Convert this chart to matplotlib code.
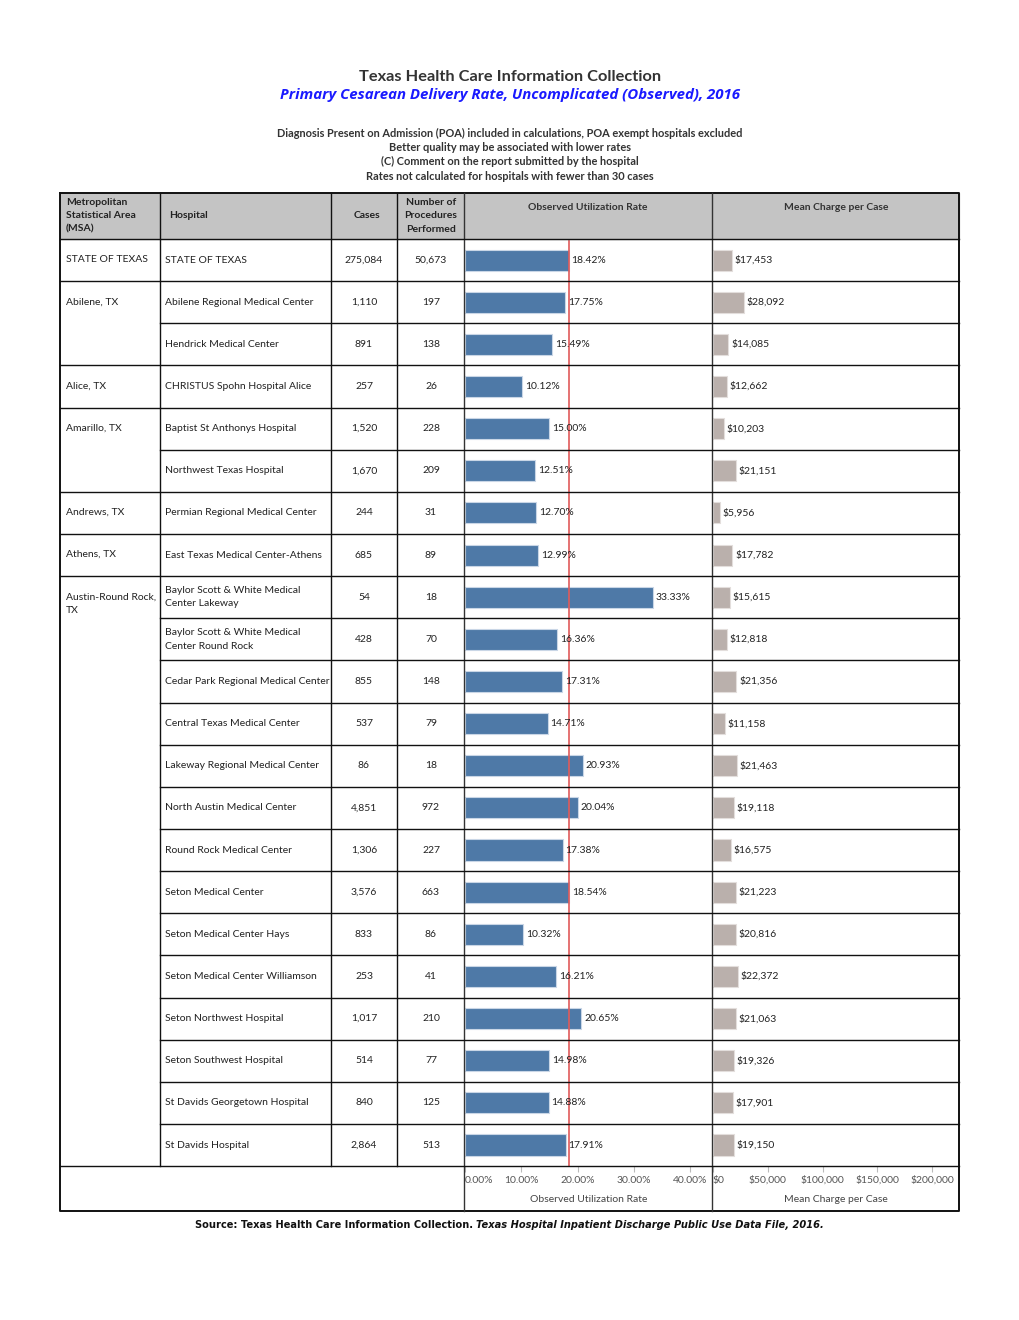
import matplotlib
matplotlib.use("Agg")
import matplotlib.pyplot as plt
from matplotlib.ticker import FuncFormatter

# ---- data ----
msa_groups = [
    ("STATE OF TEXAS", 1),
    ("Abilene, TX", 2),
    ("Alice, TX", 1),
    ("Amarillo, TX", 2),
    ("Andrews, TX", 1),
    ("Athens, TX", 1),
    ("Austin-Round Rock,\nTX", 14),
]

hospitals = [
    "STATE OF TEXAS",
    "Abilene Regional Medical Center",
    "Hendrick Medical Center",
    "CHRISTUS Spohn Hospital Alice",
    "Baptist St Anthonys Hospital",
    "Northwest Texas Hospital",
    "Permian Regional Medical Center",
    "East Texas Medical Center-Athens",
    "Baylor Scott & White Medical\nCenter Lakeway",
    "Baylor Scott & White Medical\nCenter Round Rock",
    "Cedar Park Regional Medical Center",
    "Central Texas Medical Center",
    "Lakeway Regional Medical Center",
    "North Austin Medical Center",
    "Round Rock Medical Center",
    "Seton Medical Center",
    "Seton Medical Center Hays",
    "Seton Medical Center Williamson",
    "Seton Northwest Hospital",
    "Seton Southwest Hospital",
    "St Davids Georgetown Hospital",
    "St Davids Hospital",
]

cases = [275084, 1110, 891, 257, 1520, 1670, 244, 685, 54, 428, 855, 537,
         86, 4851, 1306, 3576, 833, 253, 1017, 514, 840, 2864]
procedures = [50673, 197, 138, 26, 228, 209, 31, 89, 18, 70, 148, 79,
              18, 972, 227, 663, 86, 41, 210, 77, 125, 513]
rates = [18.42, 17.75, 15.49, 10.12, 15.00, 12.51, 12.70, 12.99, 33.33, 16.36,
         17.31, 14.71, 20.93, 20.04, 17.38, 18.54, 10.32, 16.21, 20.65, 14.98,
         14.88, 17.91]
charges = [17453, 28092, 14085, 12662, 10203, 21151, 5956, 17782, 15615, 12818,
           21356, 11158, 21463, 19118, 16575, 21223, 20816, 22372, 21063, 19326,
           17901, 19150]

rate_ticks = [0, 10, 20, 30, 40]
charge_ticks = [0, 50000, 100000, 150000, 200000]

# ---- layout (pixels) ----
W, H = 1020, 1320
cols = [60, 160, 331, 397, 464, 712, 959]
head_top, head_bot = 193, 239
row_h = 42.14
n = len(hospitals)
table_bot = head_bot + n * row_h
axis_bot = 1211

BODY = ["Lato", "DejaVu Sans"]
FS = 7.5
BLUE = "#4e79a7"
TAUPE = "#bab0ac"
TXT = "#222222"

fig = plt.figure(figsize=(W / 100, H / 100), dpi=100)


def fx(x):
    return x / W


def fy(y):
    return 1 - y / H


# bar panels
ax_rate = fig.add_axes([fx(465), fy(table_bot), fx(712) - fx(465), fy(head_bot) - fy(table_bot)])
ax_chg = fig.add_axes([fx(713), fy(table_bot), fx(959) - fx(713), fy(head_bot) - fy(table_bot)])

rows = list(range(n))
ax_rate.barh(rows, rates, height=0.5, color=BLUE, edgecolor="#c9d6e6", linewidth=0.8)
ax_rate.axvline(rates[0], color="#e05a5a", linewidth=1.2, zorder=3)
ax_rate.set_xlim(0, 43.9)
ax_chg.barh(rows, charges, height=0.5, color=TAUPE, edgecolor="#e3dedc", linewidth=0.8)
ax_chg.set_xlim(0, 224500)

for r, v in zip(rows, rates):
    ax_rate.text(v + 0.5, r, f"{v:.2f}%", va="center", ha="left", fontsize=FS,
                 color=TXT, family=BODY, zorder=4)
for r, v in zip(rows, charges):
    ax_chg.text(v + 2500, r, f"${v:,.0f}", va="center", ha="left", fontsize=FS,
                color=TXT, family=BODY)

for a, ticks, fmt, title in [
    (ax_rate, rate_ticks, lambda v, p: f"{v:.2f}%", "Observed Utilization Rate"),
    (ax_chg, charge_ticks, lambda v, p: f"${v:,.0f}", "Mean Charge per Case"),
]:
    a.set_ylim(n - 0.5, -0.5)
    a.set_yticks([])
    for s in a.spines.values():
        s.set_visible(False)
    a.set_xticks(ticks)
    a.xaxis.set_major_formatter(FuncFormatter(fmt))
    a.tick_params(axis="x", direction="out", length=4, color="#bbbbbb", pad=3,
                  labelsize=FS, labelcolor="#555555")
    for lab in a.get_xticklabels():
        lab.set_family(BODY)
    a.set_xlabel(title, fontsize=FS, color="#444444", family=BODY, labelpad=7)
    a.patch.set_alpha(0)
    a.get_xticklabels()[0].set_ha("left")

# overlay for table grid and text
ax = fig.add_axes([0, 0, 1, 1])
ax.set_xlim(0, W)
ax.set_ylim(H, 0)
ax.axis("off")

# header fill
ax.fill_between([cols[0], cols[-1]], head_top, head_bot, color="#c4c4c4", zorder=0)

lw = 1.0
# outer frame
ax.plot([cols[0], cols[-1], cols[-1], cols[0], cols[0]],
        [head_top, head_top, axis_bot, axis_bot, head_top], color="#111111", lw=1.4)
# vertical column lines
for c in cols[1:4]:
    ax.plot([c, c], [head_top, table_bot], color="#111111", lw=lw)
for c in cols[4:6]:
    ax.plot([c, c], [head_top, axis_bot], color="#333333", lw=lw)
ax.plot([cols[0], cols[-1]], [head_bot, head_bot], color="#111111", lw=lw)
ax.plot([cols[0], cols[-1]], [table_bot, table_bot], color="#111111", lw=lw)

# row lines: full width between groups, from hospital column within a group
r0 = 0
for name, cnt in msa_groups:
    top = head_bot + r0 * row_h
    ax.text(66, top + row_h / 2 - 5, name, ha="left", va="top", fontsize=FS,
            color=TXT, family=BODY, linespacing=1.65)
    for k in range(1, cnt):
        y = top + k * row_h
        ax.plot([cols[1], cols[-1]], [y, y], color="#111111", lw=lw)
    r0 += cnt
    if r0 < n:
        y = head_bot + r0 * row_h
        ax.plot([cols[0], cols[-1]], [y, y], color="#111111", lw=lw)

for i in rows:
    yc = head_bot + (i + 0.5) * row_h
    ax.text(165, yc, hospitals[i], ha="left", va="center", fontsize=FS,
            color=TXT, family=BODY, linespacing=1.65)
    ax.text(364, yc, f"{cases[i]:,}", ha="center", va="center", fontsize=FS,
            color=TXT, family=BODY)
    ax.text(431, yc, f"{procedures[i]:,}", ha="center", va="center", fontsize=FS,
            color=TXT, family=BODY)

# header labels
hy = (head_top + head_bot) / 2
ax.text(66, hy, "Metropolitan\nStatistical Area\n(MSA)", ha="left", va="center",
        fontsize=FS, fontweight="bold", color=TXT, family=BODY, linespacing=1.6)
ax.text(169, hy, "Hospital", ha="left", va="center", fontsize=FS,
        fontweight="bold", color=TXT, family=BODY)
ax.text(367, hy, "Cases", ha="center", va="center", fontsize=FS,
        fontweight="bold", color=TXT, family=BODY)
ax.text(431, hy, "Number of\nProcedures\nPerformed", ha="center", va="center",
        fontsize=FS, fontweight="bold", color=TXT, family=BODY, linespacing=1.6)
ax.text(588, 207, "Observed Utilization Rate", ha="center", va="center",
        fontsize=FS, fontweight="bold", color="#333333", family=BODY)
ax.text(836, 207, "Mean Charge per Case", ha="center", va="center",
        fontsize=FS, fontweight="bold", color="#333333", family=BODY)

# titles and notes
ax.text(510, 77, "Texas Health Care Information Collection", ha="center",
        va="center", fontsize=11.8, color="#333333", family=BODY, fontweight="bold")
ax.text(510, 95, "Primary Cesarean Delivery Rate, Uncomplicated (Observed), 2016",
        ha="center", va="center", fontsize=10.8, color="#1a1aff",
        family=["Open Sans", "DejaVu Sans"], fontweight="bold", style="italic")
notes = [
    "Diagnosis Present on Admission (POA) included in calculations, POA exempt hospitals excluded",
    "Better quality may be associated with lower rates",
    "(C) Comment on the report submitted by the hospital",
    "Rates not calculated for hospitals with fewer than 30 cases",
]
for k, t in enumerate(notes):
    ax.text(510, 133 + k * 14.4, t, ha="center", va="center", fontsize=7.95,
            color="#333333", family=BODY, fontweight="bold")

# source line
t1 = ax.text(195, 1225, "Source: Texas Health Care Information Collection. ",
             ha="left", va="center", fontsize=7.1, fontweight="bold",
             color="#111111", family="DejaVu Sans")
ax.annotate("Texas Hospital Inpatient Discharge Public Use Data File, 2016.",
            xy=(1, 0), xycoords=t1, ha="left", va="bottom", fontsize=7.1,
            fontweight="bold", style="italic", color="#111111", family="DejaVu Sans")

fig.savefig("out.png", dpi=100)
